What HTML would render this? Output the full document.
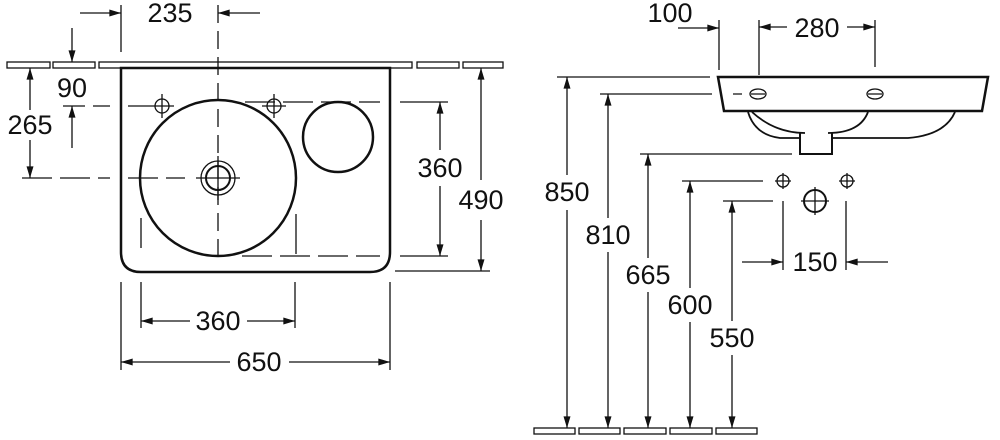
<!DOCTYPE html>
<html><head><style>body{margin:0;background:#fff}svg{display:block}text{font-family:"Liberation Sans",Arial,sans-serif;font-size:27px;fill:#111;text-anchor:middle;dominant-baseline:central}</style></head>
<body>
<svg width="1000" height="440" viewBox="0 0 1000 440" xmlns="http://www.w3.org/2000/svg">
<defs>
<marker id="a" viewBox="0 0 10 6" refX="10" refY="3" markerWidth="20" markerHeight="7" markerUnits="userSpaceOnUse" orient="auto"><path d="M0,0L10,3L0,6z" fill="#111"/></marker>
</defs>
<g stroke="#111" fill="none" stroke-width="1.3">
<rect x="7" y="62" width="43" height="6"/><rect x="53" y="62" width="42" height="6"/><rect x="99" y="62" width="313" height="6"/><rect x="417" y="62" width="42" height="6"/><rect x="463" y="62" width="40" height="6"/>
<path d="M121,68H390V252Q390,272 370,272H141Q121,272 121,252Z" stroke-width="2.5"/>
<circle cx="218" cy="178" r="78" stroke-width="2.5"/>
<circle cx="338" cy="137" r="35" stroke-width="2.5"/>
<circle cx="218" cy="178" r="12" stroke-width="2"/><circle cx="218" cy="178" r="17"/>
<circle cx="162" cy="106" r="7"/><circle cx="274" cy="106" r="7"/>
<path d="M150,106h24M162,94v24M262,106h24M274,94v24M196,178h44M218,156v44"/>
<path d="M218,5v250" stroke-dasharray="18,8"/>
<path d="M22,178H110M128,178H185" stroke-dasharray="30,8"/>
<path d="M63,106H110M128,106H150" stroke-dasharray="22,8"/>
<path d="M245,102H380" stroke-dasharray="30,8"/>
<path d="M242,256H380" stroke-dasharray="30,8"/>
<path d="M141,218v30M296,214v40" />
<path d="M121,5v47"/>
<path d="M80,13H121" marker-end="url(#a)"/><path d="M260,13H218" marker-end="url(#a)"/>
<path d="M72,28V62" marker-end="url(#a)"/><path d="M72,148V106" marker-end="url(#a)"/>
<path d="M30,110V68" marker-end="url(#a)"/><path d="M30,140V178" marker-end="url(#a)"/>
<path d="M400,102H448M400,256H448"/>
<path d="M440,150V102" marker-end="url(#a)"/><path d="M440,186V256" marker-end="url(#a)"/>
<path d="M395,271H490"/>
<path d="M481,180V68" marker-end="url(#a)"/><path d="M481,220V271" marker-end="url(#a)"/>
<path d="M141,282v46M295,282v46"/>
<path d="M190,321H141" marker-end="url(#a)"/><path d="M247,321H295" marker-end="url(#a)"/>
<path d="M121,282v88M390,282v88"/>
<path d="M230,362H121" marker-end="url(#a)"/><path d="M289,362H390" marker-end="url(#a)"/>

<path d="M718,77H988L982,111H724Z" stroke-width="2.5"/>
<path d="M748,112Q755,135 780,138H800M832,138H908Q945,135 955,112" stroke-width="1.8"/>
<path d="M752,112Q775,133 805,133M828,133Q860,133 868,112" stroke-width="1.8"/>
<path d="M800,133V154H832V133" stroke-width="2"/>
<ellipse cx="758" cy="94" rx="8" ry="5"/><ellipse cx="875" cy="94" rx="8" ry="5"/>
<path d="M733,94h9M751,94h14M868,94h14"/>
<path d="M719,20v50M759,20v55M875,20v47"/>
<path d="M678,28H719" marker-end="url(#a)"/>
<path d="M787,27H759" marker-end="url(#a)"/><path d="M847,27H875" marker-end="url(#a)"/>
<rect x="534" y="428" width="41" height="6"/><rect x="579" y="428" width="41" height="6"/><rect x="624" y="428" width="42" height="6"/><rect x="670" y="428" width="42" height="6"/><rect x="716" y="428" width="41" height="6"/>
<path d="M557,77H710M600,94H712M640,154H792M682,181H763M723,201H773"/>
<path d="M567,175V77" marker-end="url(#a)"/><path d="M567,210V428" marker-end="url(#a)"/>
<path d="M608,218V94" marker-end="url(#a)"/><path d="M608,252V428" marker-end="url(#a)"/>
<path d="M648,258V154" marker-end="url(#a)"/><path d="M648,292V428" marker-end="url(#a)"/>
<path d="M690,288V181" marker-end="url(#a)"/><path d="M690,322V428" marker-end="url(#a)"/>
<path d="M732,321V201" marker-end="url(#a)"/><path d="M732,355V428" marker-end="url(#a)"/>
<circle cx="783" cy="181" r="6"/><circle cx="847" cy="181" r="6"/><circle cx="815" cy="201" r="11" stroke-width="2"/>
<path d="M775,181h16M783,173v16M839,181h16M847,173v16M801,201h28M815,187v28"/>
<path d="M783,201v69M846,201v69"/>
<path d="M742,262H783" marker-end="url(#a)"/><path d="M888,262H846" marker-end="url(#a)"/>
</g>
<g>
<rect x="145" y="0" width="52" height="27" fill="#fff"/>
<text x="170" y="13">235</text>
<text x="72" y="88">90</text>
<text x="30" y="125">265</text>
<text x="440" y="168">360</text>
<text x="481" y="200">490</text>
<text x="218" y="321">360</text>
<text x="259" y="362">650</text>
<text x="670" y="13">100</text>
<text x="817" y="28">280</text>
<text x="567" y="192">850</text>
<text x="608" y="235">810</text>
<text x="648" y="275">665</text>
<text x="690" y="305">600</text>
<text x="732" y="338">550</text>
<text x="815" y="262">150</text>
</g>
</svg>
</body></html>
